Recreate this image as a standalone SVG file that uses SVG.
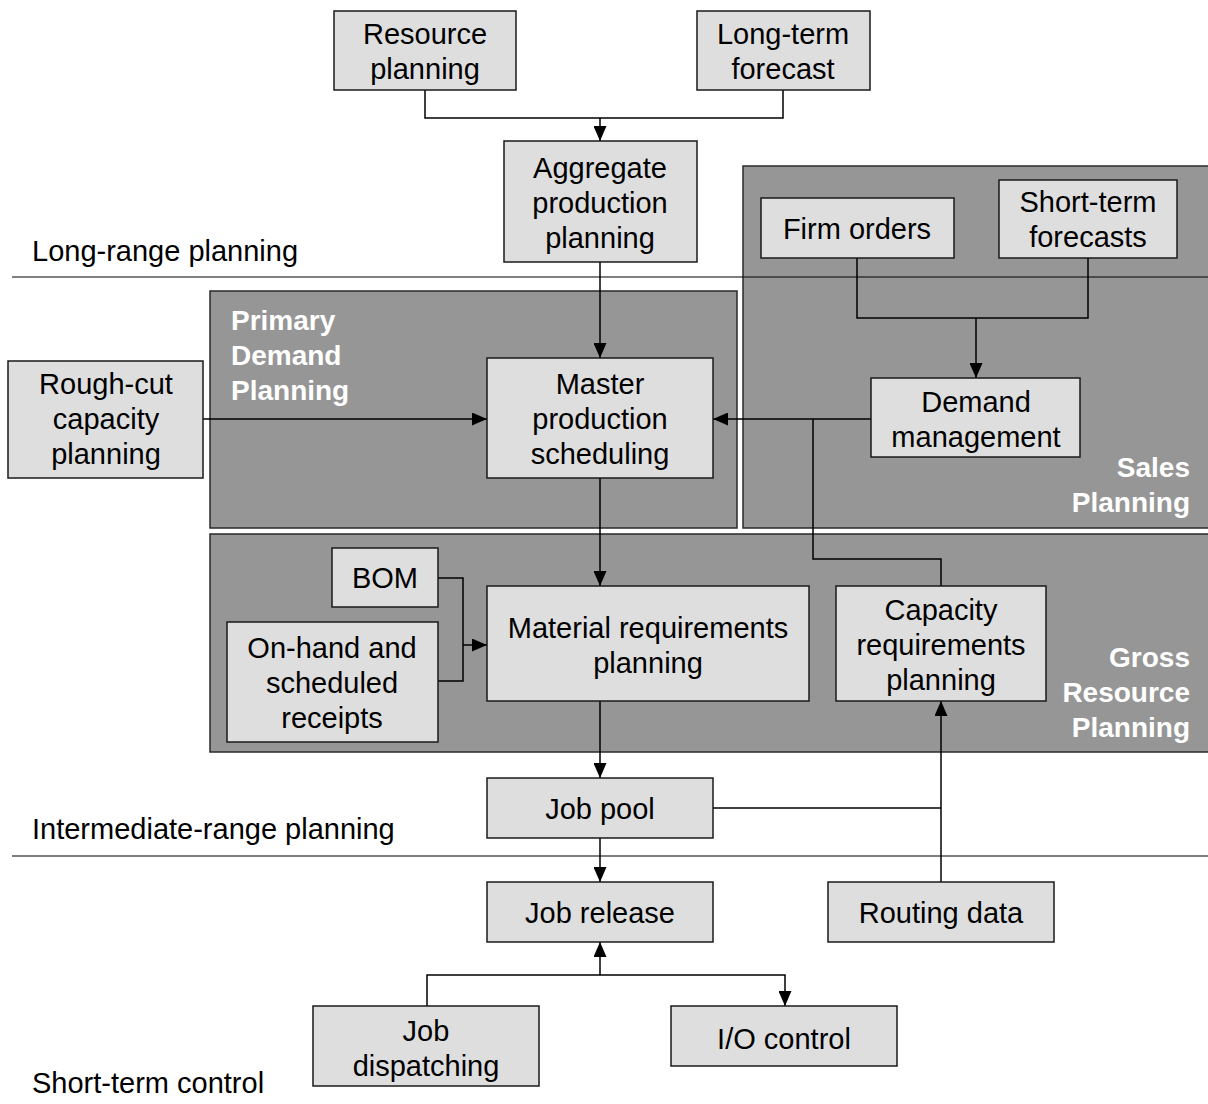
<svg xmlns="http://www.w3.org/2000/svg" width="1208" height="1104" viewBox="0 0 1208 1104">
  <style>
    .region { fill: #969696; stroke: #2a2a2a; stroke-width: 1.5; }
    .box { fill: #dedede; stroke: #1a1a1a; stroke-width: 1.5; }
    .t { font-family: "Liberation Sans", Arial, sans-serif; font-size: 29px; fill: #000; text-anchor: middle; }
    .lvl { font-family: "Liberation Sans", Arial, sans-serif; font-size: 29px; fill: #000; }
    .rg { font-family: "Liberation Sans", Arial, sans-serif; font-size: 28px; font-weight: bold; fill: #fff; }
    .rgr { text-anchor: end; }
    .ln { fill: none; stroke: #000; stroke-width: 1.5; }
    .div { stroke: #000; stroke-width: 1.2; }
  </style>
  <defs>
    <marker id="ah" viewBox="0 0 15 13" refX="15" refY="6.5" markerWidth="15" markerHeight="13" markerUnits="userSpaceOnUse" orient="auto">
      <path d="M0,0 L15,6.5 L0,13 Z" fill="#000"/>
    </marker>
  </defs>

  <rect width="1208" height="1104" fill="#fff"/>

  <!-- planning regions -->
  <g id="region-sales">
    <rect class="region" x="743" y="166" width="470" height="362"/>
    <text class="rg rgr" x="1190" y="477">Sales</text>
    <text class="rg rgr" x="1190" y="512">Planning</text>
  </g>
  <g id="region-primary">
    <rect class="region" x="210" y="291" width="527" height="237"/>
    <text class="rg" x="231" y="330">Primary</text>
    <text class="rg" x="231" y="365">Demand</text>
    <text class="rg" x="231" y="400">Planning</text>
  </g>
  <g id="region-gross">
    <rect class="region" x="210" y="534" width="1003" height="218"/>
    <text class="rg rgr" x="1190" y="667">Gross</text>
    <text class="rg rgr" x="1190" y="702">Resource</text>
    <text class="rg rgr" x="1190" y="737">Planning</text>
  </g>

  <!-- horizon dividers -->
  <g id="horizons">
    <line class="div" x1="12" y1="277" x2="1208" y2="277"/>
    <line class="div" x1="12" y1="856" x2="1208" y2="856"/>
    <text class="lvl" x="32" y="261">Long-range planning</text>
    <text class="lvl" x="32" y="839">Intermediate-range planning</text>
    <text class="lvl" x="32" y="1093">Short-term control</text>
  </g>

  <!-- connectors -->
  <g id="connectors">
    <path class="ln" d="M425,90 V118 H783 V90"/>
    <path class="ln" d="M600,118 V141" marker-end="url(#ah)"/>
    <path class="ln" d="M600,262 V358" marker-end="url(#ah)"/>
    <path class="ln" d="M857,258 V318 H1088 V258"/>
    <path class="ln" d="M976,318 V378" marker-end="url(#ah)"/>
    <path class="ln" d="M203,419 H487" marker-end="url(#ah)"/>
    <path class="ln" d="M871,419 H713" marker-end="url(#ah)"/>
    <path class="ln" d="M941,586 V559 H813 V419"/>
    <path class="ln" d="M600,478 V586" marker-end="url(#ah)"/>
    <path class="ln" d="M438,578 H463 V681 H438"/>
    <path class="ln" d="M463,645 H487" marker-end="url(#ah)"/>
    <path class="ln" d="M600,701 V778" marker-end="url(#ah)"/>
    <path class="ln" d="M713,808 H941"/>
    <path class="ln" d="M941,882 V701" marker-end="url(#ah)"/>
    <path class="ln" d="M600,838 V882" marker-end="url(#ah)"/>
    <path class="ln" d="M600,975 V942" marker-end="url(#ah)"/>
    <path class="ln" d="M427,1006 V975 H785 V1006" marker-end="url(#ah)"/>
  </g>

  <!-- nodes -->
  <g id="resource-planning">
    <rect class="box" x="334" y="11" width="182" height="79"/>
    <text class="t" x="425" y="44">Resource</text>
    <text class="t" x="425" y="79">planning</text>
  </g>
  <g id="long-term-forecast">
    <rect class="box" x="697" y="11" width="173" height="79"/>
    <text class="t" x="783" y="44">Long-term</text>
    <text class="t" x="783" y="79">forecast</text>
  </g>
  <g id="aggregate-production-planning">
    <rect class="box" x="504" y="141" width="193" height="121"/>
    <text class="t" x="600" y="178">Aggregate</text>
    <text class="t" x="600" y="213">production</text>
    <text class="t" x="600" y="248">planning</text>
  </g>
  <g id="firm-orders">
    <rect class="box" x="761" y="198" width="193" height="60"/>
    <text class="t" x="857" y="239">Firm orders</text>
  </g>
  <g id="short-term-forecasts">
    <rect class="box" x="999" y="180" width="178" height="78"/>
    <text class="t" x="1088" y="212">Short-term</text>
    <text class="t" x="1088" y="247">forecasts</text>
  </g>
  <g id="demand-management">
    <rect class="box" x="871" y="378" width="209" height="79"/>
    <text class="t" x="976" y="412">Demand</text>
    <text class="t" x="976" y="447">management</text>
  </g>
  <g id="rough-cut-capacity-planning">
    <rect class="box" x="8" y="361" width="195" height="117"/>
    <text class="t" x="106" y="394">Rough-cut</text>
    <text class="t" x="106" y="429">capacity</text>
    <text class="t" x="106" y="464">planning</text>
  </g>
  <g id="master-production-scheduling">
    <rect class="box" x="487" y="358" width="226" height="120"/>
    <text class="t" x="600" y="394">Master</text>
    <text class="t" x="600" y="429">production</text>
    <text class="t" x="600" y="464">scheduling</text>
  </g>
  <g id="bom">
    <rect class="box" x="332" y="548" width="106" height="59"/>
    <text class="t" x="385" y="588">BOM</text>
  </g>
  <g id="on-hand-scheduled-receipts">
    <rect class="box" x="227" y="622" width="211" height="120"/>
    <text class="t" x="332" y="658">On-hand and</text>
    <text class="t" x="332" y="693">scheduled</text>
    <text class="t" x="332" y="728">receipts</text>
  </g>
  <g id="material-requirements-planning">
    <rect class="box" x="487" y="586" width="322" height="115"/>
    <text class="t" x="648" y="638">Material requirements</text>
    <text class="t" x="648" y="673">planning</text>
  </g>
  <g id="capacity-requirements-planning">
    <rect class="box" x="836" y="586" width="210" height="115"/>
    <text class="t" x="941" y="620">Capacity</text>
    <text class="t" x="941" y="655">requirements</text>
    <text class="t" x="941" y="690">planning</text>
  </g>
  <g id="job-pool">
    <rect class="box" x="487" y="778" width="226" height="60"/>
    <text class="t" x="600" y="819">Job pool</text>
  </g>
  <g id="job-release">
    <rect class="box" x="487" y="882" width="226" height="60"/>
    <text class="t" x="600" y="923">Job release</text>
  </g>
  <g id="routing-data">
    <rect class="box" x="828" y="882" width="226" height="60"/>
    <text class="t" x="941" y="923">Routing data</text>
  </g>
  <g id="job-dispatching">
    <rect class="box" x="313" y="1006" width="226" height="80"/>
    <text class="t" x="426" y="1041">Job</text>
    <text class="t" x="426" y="1076">dispatching</text>
  </g>
  <g id="io-control">
    <rect class="box" x="671" y="1006" width="226" height="60"/>
    <text class="t" x="784" y="1049">I/O control</text>
  </g>
</svg>
